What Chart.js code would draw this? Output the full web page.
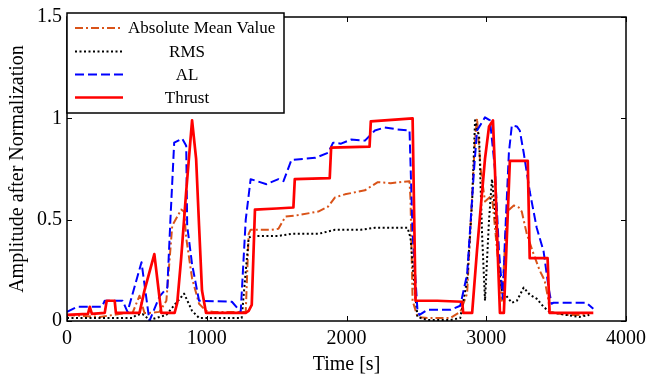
<!DOCTYPE html>
<html>
<head>
<meta charset="utf-8">
<script src="https://cdn.jsdelivr.net/npm/chart.js@4.4.0/dist/chart.umd.min.js"></script>
<style>
html,body{margin:0;padding:0;background:#fff;}
#wrap{width:652px;height:377px;position:relative;}
</style>
</head>
<body>
<div id="wrap"><canvas id="c" width="652" height="377"></canvas></div>
<script>
// ---- data: [time (s), normalized amplitude] ----
const seriesNames = ['Absolute Mean Value', 'RMS', 'AL', 'Thrust'];
const xTicks = [0, 1000, 2000, 3000, 4000];
const yTicks = [0, 0.5, 1, 1.5];

const absMean = [[0,0.03],[234,0.02],[426,0.04],[469,0.04],[519,0.125],[554,0.04],[590,0.04],[661,0.045],[711,0.1],[753,0.47],[817,0.55],[838,0.54],[853,0.41],[895,0.21],[945,0.085],[995,0.05],[1050,0.045],[1279,0.045],[1300,0.43],[1314,0.45],[1464,0.45],[1513,0.455],[1563,0.515],[1634,0.52],[1798,0.54],[1869,0.565],[1918,0.61],[1989,0.625],[2132,0.645],[2224,0.685],[2316,0.68],[2451,0.69],[2458,0.6],[2473,0.1],[2508,0.02],[2579,0.015],[2743,0.015],[2814,0.045],[2863,0.135],[2920,0.9],[2934,1.0],[2960,0.75],[2991,0.59],[3041,0.62],[3091,0.25],[3112,0.1],[3148,0.54],[3197,0.57],[3233,0.56],[3254,0.54],[3290,0.43],[3339,0.33],[3382,0.25],[3418,0.2],[3446,0.1],[3453,0.045],[3574,0.03],[3737,0.03]];

const rms = [[0,0.015],[469,0.015],[497,0.03],[540,0.035],[590,0.005],[711,0.03],[782,0.09],[838,0.135],[895,0.05],[945,0.015],[1250,0.015],[1300,0.41],[1322,0.42],[1513,0.42],[1606,0.43],[1798,0.43],[1918,0.45],[2103,0.45],[2203,0.46],[2437,0.46],[2458,0.41],[2487,0.165],[2508,0.02],[2579,0.005],[2743,0.005],[2814,0.015],[2863,0.2],[2899,0.59],[2920,0.99],[2949,0.91],[2970,0.43],[2991,0.1],[3020,0.5],[3041,0.7],[3062,0.55],[3091,0.26],[3112,0.15],[3148,0.12],[3183,0.09],[3219,0.1],[3268,0.165],[3311,0.13],[3361,0.11],[3410,0.07],[3453,0.045],[3574,0.03],[3666,0.02],[3737,0.03]];

const al = [[0,0.045],[71,0.07],[250,0.07],[270,0.10],[398,0.10],[433,0.045],[533,0.29],[590,0.0],[661,0.12],[718,0.165],[740,0.5],[767,0.88],[824,0.90],[853,0.865],[860,0.47],[895,0.28],[945,0.10],[1180,0.095],[1243,0.045],[1279,0.50],[1314,0.70],[1428,0.675],[1513,0.70],[1549,0.69],[1606,0.795],[1776,0.805],[1869,0.83],[1904,0.88],[1961,0.875],[2032,0.895],[2132,0.89],[2203,0.94],[2274,0.955],[2366,0.945],[2451,0.94],[2473,0.43],[2508,0.05],[2522,0.03],[2579,0.055],[2743,0.055],[2814,0.075],[2863,0.23],[2913,0.75],[2934,0.94],[2991,1.005],[3027,0.99],[3062,0.75],[3091,0.345],[3119,0.11],[3133,0.39],[3162,0.83],[3183,0.965],[3219,0.96],[3240,0.94],[3268,0.83],[3311,0.64],[3361,0.46],[3410,0.345],[3446,0.165],[3467,0.085],[3481,0.09],[3716,0.09],[3766,0.06]];

const thrust = [[0,0.03],[150,0.035],[163,0.07],[178,0.035],[270,0.04],[284,0.1],[341,0.1],[350,0.04],[519,0.04],[554,0.15],[625,0.33],[661,0.12],[675,0.04],[770,0.04],[789,0.09],[817,0.31],[853,0.64],[895,0.99],[924,0.8],[945,0.47],[966,0.15],[995,0.04],[1279,0.04],[1300,0.05],[1322,0.08],[1345,0.55],[1500,0.555],[1620,0.56],[1630,0.70],[1880,0.705],[1890,0.855],[2165,0.86],[2174,0.985],[2473,1.0],[2494,0.10],[2650,0.10],[2828,0.095],[2835,0.04],[2899,0.04],[2934,0.35],[2991,0.8],[3020,0.96],[3048,0.99],[3062,0.75],[3084,0.3],[3098,0.04],[3126,0.04],[3169,0.79],[3297,0.79],[3311,0.31],[3439,0.31],[3453,0.04],[3766,0.04]];

const toXY = arr => arr.map(p => ({x: p[0], y: p[1]}));

const styles = [
  {color:'#D95319', dash:[8,3,2,3], width:2},
  {color:'#000000', dash:[2,2.5], width:2},
  {color:'#0000FF', dash:[9,4], width:2},
  {color:'#FF0000', dash:[], width:2.7}
];
const seriesData = [absMean, rms, al, thrust];
const FONT = "'Liberation Serif', 'Times New Roman', serif";

const datasets = seriesData.map((d, i) => ({
  label: seriesNames[i],
  data: toXY(d),
  borderColor: styles[i].color,
  borderDash: styles[i].dash,
  borderWidth: styles[i].width,
  borderJoinStyle: 'round',
  pointRadius: 0,
  tension: 0,
  fill: false,
  order: 4 - i
}));

const framePlugin = {
  id: 'frame',
  afterDatasetsDraw(chart) {
    const ctx = chart.ctx, a = chart.chartArea;
    const xs = chart.scales.x, ys = chart.scales.y;
    ctx.save();
    ctx.strokeStyle = '#000';
    ctx.lineWidth = 1;
    const tl = 5;
    ctx.beginPath();
    xTicks.forEach(t => {
      const px = Math.round(xs.getPixelForValue(t)) + 0.5;
      ctx.moveTo(px, a.bottom); ctx.lineTo(px, a.bottom - tl);
      ctx.moveTo(px, a.top); ctx.lineTo(px, a.top + tl);
    });
    yTicks.forEach(t => {
      const py = Math.round(ys.getPixelForValue(t)) + 0.5;
      ctx.moveTo(a.left, py); ctx.lineTo(a.left + tl, py);
      ctx.moveTo(a.right, py); ctx.lineTo(a.right - tl, py);
    });
    ctx.stroke();
    ctx.lineWidth = 1.5;
    ctx.strokeRect(a.left, a.top, a.right - a.left, a.bottom - a.top);

    // legend box
    const lx = 67, ly = 13, lw = 217, lh = 100;
    ctx.fillStyle = '#fff';
    ctx.fillRect(lx, ly, lw, lh);
    ctx.lineWidth = 1.5;
    ctx.strokeRect(lx, ly, lw, lh);
    const rows = [28, 51.5, 74.5, 97.5];
    ctx.font = "17px " + FONT;
    ctx.textBaseline = 'middle';
    seriesNames.forEach((n, i) => {
      ctx.beginPath();
      ctx.setLineDash(styles[i].dash);
      ctx.strokeStyle = styles[i].color;
      ctx.lineWidth = styles[i].width;
      ctx.moveTo(75, rows[i]); ctx.lineTo(123, rows[i]);
      ctx.stroke();
      ctx.setLineDash([]);
      ctx.fillStyle = '#000';
      if (i === 0) { ctx.textAlign = 'left'; ctx.fillText(n, 128, rows[i] + 1); }
      else { ctx.textAlign = 'center'; ctx.fillText(n, 187, rows[i] + 1); }
    });
    ctx.restore();
  }
};

new Chart(document.getElementById('c'), {
  type: 'line',
  data: { datasets },
  options: {
    responsive: false,
    animation: false,
    devicePixelRatio: 1,
    layout: { padding: { left: 0, right: 22, top: 12, bottom: 0 } },
    plugins: { legend: { display: false }, tooltip: { enabled: false } },
    scales: {
      x: {
        type: 'linear', min: 0, max: 4000,
        afterFit(s) { s.height = 56; },
        afterBuildTicks(s) { s.ticks = xTicks.map(v => ({value: v})); },
        grid: { display: false, drawTicks: false },
        border: { display: false },
        ticks: { color: '#000', font: { family: FONT, size: 20 }, padding: 6, maxRotation: 0,
          callback: v => String(v) },
        title: { display: true, text: 'Time [s]', color: '#000', font: { family: FONT, size: 20 }, padding: { top: 0, bottom: 0 } }
      },
      y: {
        type: 'linear', min: 0, max: 1.5,
        afterFit(s) { s.width = 67; },
        afterBuildTicks(s) { s.ticks = yTicks.map(v => ({value: v})); },
        grid: { display: false, drawTicks: false },
        border: { display: false },
        ticks: { color: '#000', font: { family: FONT, size: 20 }, padding: 5,
          callback: v => String(v) },
        title: { display: true, text: 'Amplitude after Normalization', color: '#000', font: { family: FONT, size: 20 }, padding: { top: 6, bottom: 0 } }
      }
    }
  },
  plugins: [framePlugin]
});
</script>
</body>
</html>
